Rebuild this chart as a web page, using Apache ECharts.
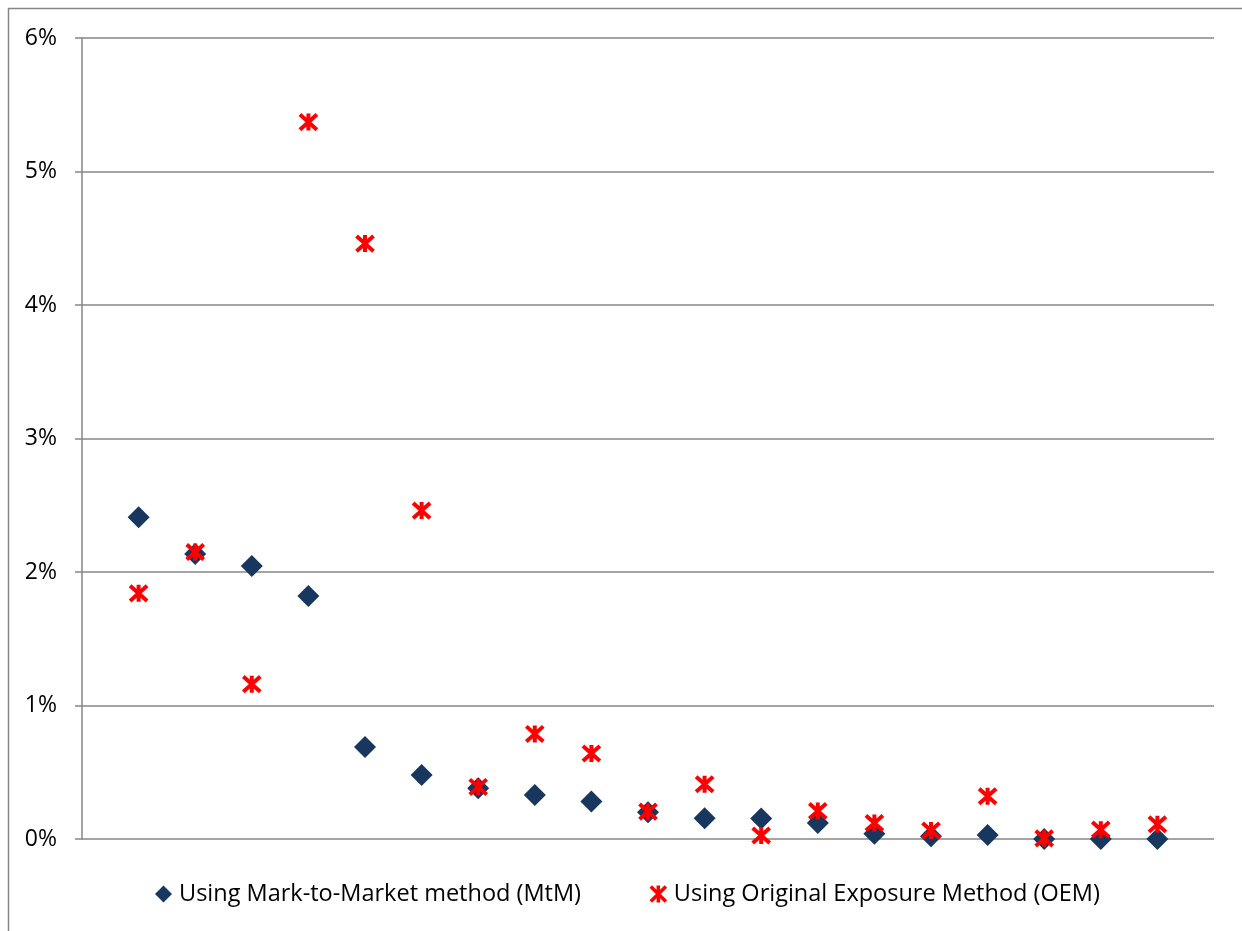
<!DOCTYPE html>
<html>
<head>
<meta charset="utf-8">
<script src="https://cdn.jsdelivr.net/npm/echarts@6/dist/echarts.min.js"></script>
<style>
  html, body { margin: 0; padding: 0; background: #ffffff; }
  #chart { width: 1242px; height: 931px; }
</style>
</head>
<body>
<div id="chart"></div>
<script>
// Observation index (1..19) along the horizontal axis
const points = [1, 2, 3, 4, 5, 6, 7, 8, 9, 10, 11, 12, 13, 14, 15, 16, 17, 18, 19];

// Capital charge as a share of exposure (%)
const mtmValues = [2.41, 2.135, 2.045, 1.82, 0.69, 0.48, 0.38, 0.33, 0.28, 0.20, 0.155, 0.154, 0.12, 0.04, 0.02, 0.03, 0.0, 0.0, 0.0];
const oemValues = [1.84, 2.15, 1.16, 5.37, 4.46, 2.46, 0.39, 0.787, 0.64, 0.205, 0.41, 0.026, 0.21, 0.12, 0.064, 0.32, 0.005, 0.07, 0.11];

const seriesNames = ['Using Mark-to-Market method (MtM)', 'Using Original Exposure Method (OEM)'];
const yTicks = [0, 1, 2, 3, 4, 5, 6];

const NAVY = '#17375E';
const RED = '#FF0000';
const GRAY = '#868686';
const FONT = '"Open Sans", "Noto Sans", sans-serif';

// Asterisk-style marker: an X crossed by a vertical bar
const starPath = 'path://M0,0 L16,16 M16,0 L0,16 M8,-1 L8,17';

const chart = echarts.init(document.getElementById('chart'), null, { renderer: 'canvas' });

chart.setOption({
  backgroundColor: '#ffffff',
  animation: false,
  graphic: [{
    type: 'rect',
    shape: { x: 8.5, y: 8.5, width: 1400, height: 1100 },
    style: { fill: 'none', stroke: GRAY, lineWidth: 1.5 },
    silent: true,
    z: -1
  }],
  grid: { left: 82, right: 28, top: 38, bottom: 92 },
  xAxis: {
    type: 'value',
    min: 0,
    max: 20,
    show: false
  },
  yAxis: {
    type: 'value',
    min: yTicks[0],
    max: yTicks[yTicks.length - 1],
    interval: 1,
    axisLine: { show: true, lineStyle: { color: GRAY, width: 1.5 } },
    axisTick: { show: true, length: 7, lineStyle: { color: GRAY, width: 1.5 } },
    splitLine: { show: true, lineStyle: { color: GRAY, width: 1.5 } },
    axisLabel: {
      margin: 25,
      color: '#000000',
      fontFamily: FONT,
      fontSize: 23,
      formatter: v => v + '%'
    }
  },
  legend: {
    bottom: 25,
    left: 155,
    itemGap: 68,
    itemWidth: 17,
    itemHeight: 17,
    padding: 0,
    textStyle: { fontFamily: FONT, fontSize: 23.5, color: '#000000', padding: [0, 0, 0, 2] },
    data: [
      { name: seriesNames[0], icon: 'diamond', itemStyle: { color: NAVY } },
      { name: seriesNames[1], icon: starPath, itemStyle: { color: RED, borderColor: RED, borderWidth: 3.5 } }
    ]
  },
  series: [
    {
      name: seriesNames[0],
      type: 'scatter',
      symbol: 'diamond',
      symbolSize: 22,
      itemStyle: { color: NAVY, opacity: 1 },
      z: 2,
      data: points.map((p, i) => [p, mtmValues[i]])
    },
    {
      name: seriesNames[1],
      type: 'scatter',
      symbol: starPath,
      symbolSize: 17,
      itemStyle: { color: RED, borderColor: RED, borderWidth: 4, opacity: 1 },
      z: 3,
      data: points.map((p, i) => [p, oemValues[i]])
    }
  ]
});
</script>
</body>
</html>
